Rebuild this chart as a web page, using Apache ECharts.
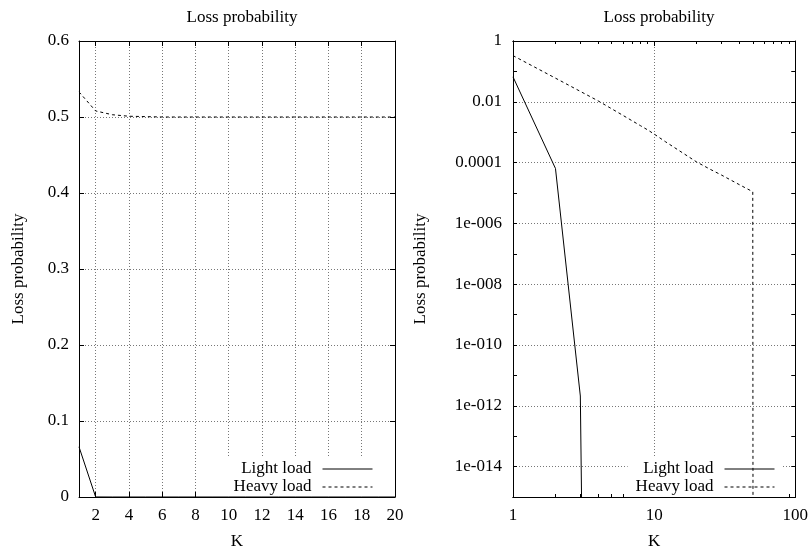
<!DOCTYPE html>
<html>
<head>
<meta charset="utf-8">
<script src="https://cdn.jsdelivr.net/npm/echarts@6/dist/echarts.min.js"></script>
<style>
  html, body { margin: 0; padding: 0; background: #fff; }
  #chart { width: 811px; height: 555px; }
</style>
</head>
<body>
<div id="chart"></div>
<script>
  // K values and the two curves of the left (linear) plot
  const kLinear = [1, 2, 3, 4, 5, 6, 7, 8, 9, 10, 11, 12, 13, 14, 15, 16, 17, 18, 19, 20];
  const lightLoad = [0.066, 6.4e-5, 2.1e-12, 1e-60, 1e-60, 1e-60, 1e-60, 1e-60, 1e-60, 1e-60,
                     1e-60, 1e-60, 1e-60, 1e-60, 1e-60, 1e-60, 1e-60, 1e-60, 1e-60, 1e-60];
  const heavyLoadLinear = [0.533, 0.508, 0.503, 0.501, 0.5005, 0.5, 0.5, 0.5, 0.5, 0.5,
                           0.5, 0.5, 0.5, 0.5, 0.5, 0.5, 0.5, 0.5, 0.5, 0.5];
  // right (log-log) plot, heavy load
  const kLog = [1, 2, 3, 4, 5, 6, 7, 8, 9, 10, 12, 15, 20, 25, 30, 40, 50, 51];
  const heavyLoadLog = [0.33, 0.060, 0.022, 0.0108, 0.0059, 0.0036, 0.00236, 0.00164, 0.00119, 8.7e-4,
                        4.9e-4, 2.5e-4, 1.05e-4, 6.0e-5, 3.9e-5, 1.9e-5, 1.1e-5, 1e-60];

  // tick values
  const kTicksLinear = [2, 4, 6, 8, 10, 12, 14, 16, 18, 20];
  const kTicksLogMajor = [1, 10, 100];
  const kTicksLogMinor = [2, 3, 4, 5, 6, 7, 8, 9, 20, 30, 40, 50, 60, 70, 80, 90];
  const probTicksMajor = [1e-14, 1e-12, 1e-10, 1e-8, 1e-6, 1e-4, 1e-2, 1];
  const probTicksMinor = [1e-13, 1e-11, 1e-9, 1e-7, 1e-5, 1e-3, 1e-1];
  const probTicksAll = [1e-15, 1e-14, 1e-13, 1e-12, 1e-11, 1e-10, 1e-9, 1e-8, 1e-7, 1e-6,
                        1e-5, 1e-4, 1e-3, 1e-2, 1e-1, 1];

  const FONT = 'Liberation Serif';
  const black = '#000';
  const gridLine = { show: true, lineStyle: { color: '#777', width: 1, type: [1, 2] } };
  const noGrid = { show: false };

  function pairs(xs, ys) {
    return xs.map((x, i) => [x, ys[i]]);
  }
  function logLabel(v) {
    const e = Math.round(Math.log10(v));
    if (e >= -4) return String(Math.pow(10, e));
    return '1e-' + String(-e).padStart(3, '0');
  }

  // helper for one axis
  function axis(opt) {
    return Object.assign({
      axisLine: { show: true, onZero: false, lineStyle: { color: black, width: 1 } },
      axisTick: { show: true, inside: true, length: 5, lineStyle: { color: black } },
      axisLabel: { show: false },
      splitLine: noGrid,
      nameTextStyle: { fontFamily: FONT, fontSize: 17, color: black }
    }, opt);
  }
  const label = (m, extra) => Object.assign({ show: true, margin: m, fontFamily: FONT, fontSize: 17, color: black }, extra);

  function key(right) {
    return {
      data: ['Light load', 'Heavy load'], orient: 'vertical', align: 'right',
      right: right, top: 457, padding: [3, 8, 1, 8], itemGap: 0,
      itemWidth: 50, itemHeight: 9, backgroundColor: '#fff',
      itemStyle: { opacity: 0 },
      lineStyle: { width: 1 },
      textStyle: { fontFamily: FONT, fontSize: 17, color: black, lineHeight: 18, padding: [0, 6, 0, 0] }
    };
  }

  const myChart = echarts.init(document.getElementById('chart'));

  const option = {
    animation: false,
    backgroundColor: '#fff',
    title: [
      { text: 'Loss probability', left: 237, top: 4, textAlign: 'center',
        textStyle: { fontFamily: FONT, fontSize: 17, fontWeight: 'normal', color: black } },
      { text: 'Loss probability', left: 654, top: 4, textAlign: 'center',
        textStyle: { fontFamily: FONT, fontSize: 17, fontWeight: 'normal', color: black } }
    ],
    grid: [
      { left: 79, right: 416, top: 41, bottom: 55 },
      { left: 513, right: 15, top: 41, bottom: 55 }
    ],
    legend: [key(430), key(28)],
    xAxis: [
      // left plot
      axis({ type: 'value', gridIndex: 0, position: 'bottom', min: 1, max: 20,
        name: 'K', nameLocation: 'middle', nameGap: 36,
        axisTick: { show: true, inside: true, length: 5, customValues: kTicksLinear, lineStyle: { color: black } },
        axisLabel: label(10, { customValues: kTicksLinear }),
        splitLine: gridLine }),
      axis({ type: 'value', gridIndex: 0, position: 'top', min: 1, max: 20,
        axisTick: { show: true, inside: true, length: 5, customValues: kTicksLinear, lineStyle: { color: black } } }),
      // right plot
      axis({ type: 'log', gridIndex: 1, position: 'bottom', min: 1, max: 100,
        name: 'K', nameLocation: 'middle', nameGap: 36,
        axisTick: { show: true, inside: true, length: 5, customValues: kTicksLogMajor, lineStyle: { color: black } },
        axisLabel: label(10, { customValues: kTicksLogMajor, formatter: v => String(Math.round(v)) }),
        splitLine: gridLine }),
      axis({ type: 'log', gridIndex: 1, position: 'bottom', min: 1, max: 100,
        axisTick: { show: true, inside: true, length: 3, customValues: kTicksLogMinor, lineStyle: { color: black } } }),
      axis({ type: 'log', gridIndex: 1, position: 'top', min: 1, max: 100,
        axisTick: { show: true, inside: true, length: 5, customValues: kTicksLogMajor, lineStyle: { color: black } } }),
      axis({ type: 'log', gridIndex: 1, position: 'top', min: 1, max: 100,
        axisTick: { show: true, inside: true, length: 3, customValues: kTicksLogMinor, lineStyle: { color: black } } })
    ],
    yAxis: [
      // left plot
      axis({ type: 'value', gridIndex: 0, position: 'left', min: 0, max: 0.6, interval: 0.1,
        name: 'Loss probability', nameLocation: 'middle', nameGap: 52, nameRotate: 90,
        axisLabel: label(10, { formatter: v => String(Math.round(v * 10) / 10) }),
        splitLine: gridLine }),
      axis({ type: 'value', gridIndex: 0, position: 'right', min: 0, max: 0.6, interval: 0.1 }),
      // right plot
      axis({ type: 'log', gridIndex: 1, position: 'left', min: 1e-15, max: 1,
        name: 'Loss probability', nameLocation: 'middle', nameGap: 84, nameRotate: 90,
        axisTick: { show: true, inside: true, length: 4, customValues: probTicksMajor, lineStyle: { color: black } },
        axisLabel: label(11, { customValues: probTicksMajor, formatter: logLabel }),
        splitLine: gridLine }),
      axis({ type: 'log', gridIndex: 1, position: 'left', min: 1e-15, max: 1,
        axisTick: { show: true, inside: true, length: 4, customValues: probTicksMinor, lineStyle: { color: black } } }),
      axis({ type: 'log', gridIndex: 1, position: 'right', min: 1e-15, max: 1,
        axisTick: { show: true, inside: true, length: 4, customValues: probTicksAll, lineStyle: { color: black } } })
    ],
    series: [
      { name: 'Light load', type: 'line', xAxisIndex: 0, yAxisIndex: 0, z: 5,
        data: pairs(kLinear, lightLoad), showSymbol: false, symbol: 'none',
        lineStyle: { color: black, width: 1 }, itemStyle: { color: black } },
      { name: 'Heavy load', type: 'line', xAxisIndex: 0, yAxisIndex: 0, z: 5,
        data: pairs(kLinear, heavyLoadLinear), showSymbol: false, symbol: 'none',
        lineStyle: { color: black, width: 1, type: [3, 3] }, itemStyle: { color: black } },
      { name: 'Light load', type: 'line', xAxisIndex: 2, yAxisIndex: 2, z: 5,
        data: pairs(kLinear, lightLoad), showSymbol: false, symbol: 'none',
        lineStyle: { color: black, width: 1 }, itemStyle: { color: black } },
      { name: 'Heavy load', type: 'line', xAxisIndex: 2, yAxisIndex: 2, z: 5,
        data: pairs(kLog, heavyLoadLog), showSymbol: false, symbol: 'none',
        lineStyle: { color: black, width: 1, type: [3, 3] }, itemStyle: { color: black } }
    ]
  };
  console.log(option);
  myChart.setOption(option);
</script>
</body>
</html>
